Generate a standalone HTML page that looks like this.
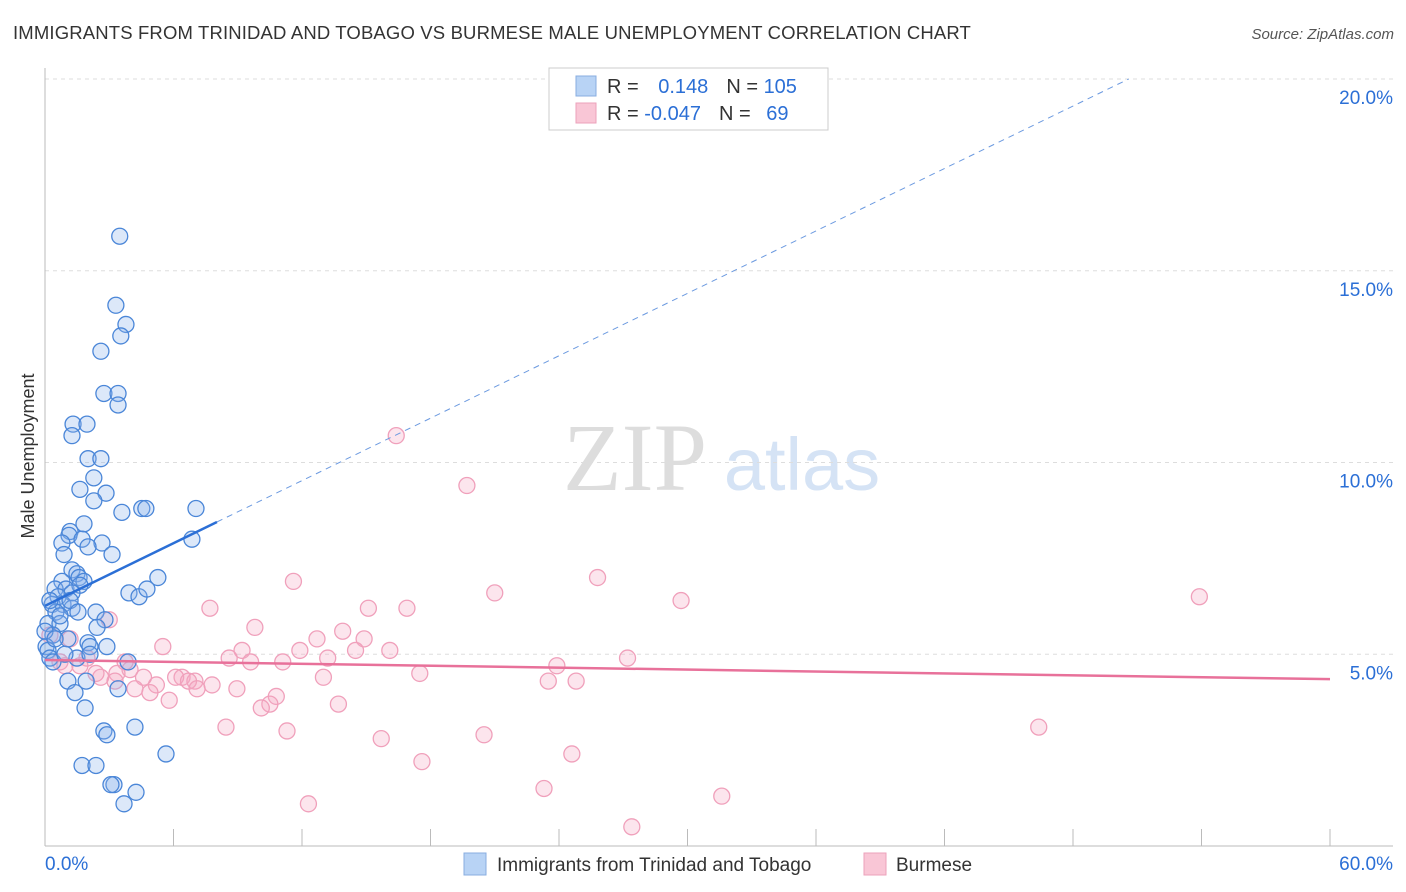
<!DOCTYPE html>
<html><head><meta charset="utf-8">
<style>
body{margin:0;background:#fff;font-family:"Liberation Sans",sans-serif;}
svg{display:block}
</style></head>
<body>
<svg id="chart" width="1406" height="892" xmlns="http://www.w3.org/2000/svg">
<text x="13" y="39" font-size="18.5" letter-spacing="0.15" fill="#333">IMMIGRANTS FROM TRINIDAD AND TOBAGO VS BURMESE MALE UNEMPLOYMENT CORRELATION CHART</text>
<text x="1394" y="39" font-size="15" fill="#555" text-anchor="end" font-style="italic">Source: ZipAtlas.com</text>
<text transform="translate(34,456) rotate(-90)" font-size="18" fill="#333" text-anchor="middle">Male Unemployment</text>
<g>
<text x="635" y="490" font-size="96" fill="#ddd" text-anchor="middle" font-family="Liberation Serif,serif">ZIP</text>
<text x="802" y="490" font-size="74" fill="#d5e3f5" text-anchor="middle">atlas</text>
</g>
<g id="grid"></g><g id="axes"></g><g id="marks"></g>
<g>
<rect x="549" y="68" width="279" height="62" fill="#fff" stroke="#ccc"/>
<rect x="576" y="76" width="20" height="20" fill="#b8d3f5" stroke="#88aee0"/>
<rect x="576" y="103" width="20" height="20" fill="#f9c6d6" stroke="#eca2bb"/>
<text x="607" y="93" font-size="20" fill="#333">R = <tspan fill="#2b6fd6" dx="14">0.148</tspan><tspan dx="18" fill="#333">N = </tspan><tspan fill="#2b6fd6">105</tspan></text>
<text x="607" y="120" font-size="20" fill="#333">R = <tspan fill="#2b6fd6">-0.047</tspan><tspan dx="18" fill="#333">N = </tspan><tspan fill="#2b6fd6" dx="10">69</tspan></text>
</g>
<g>
<rect x="464" y="853" width="22" height="22" fill="#b8d3f5" stroke="#88aee0"/>
<text x="497" y="871" font-size="19" fill="#333">Immigrants from Trinidad and Tobago</text>
<rect x="864" y="853" width="22" height="22" fill="#f9c6d6" stroke="#eca2bb"/>
<text x="896" y="871" font-size="19" fill="#333">Burmese</text>
</g>
</svg>
<script>
const xTicks=[0,6,12,18,24,30,36,42,48,54,60];
const yTicks=[5,10,15,20];
const yTickLabels=["5.0%","10.0%","15.0%","20.0%"];
const blueTrend=[[0,6.26],[8.03,8.45]];
const blueDash=[[8.03,8.45],[50.6,20.0]];
const pinkTrend=[[0,4.85],[60,4.35]];
const bluePts=[[3.49,15.9],[3.31,14.1],[3.78,13.6],[3.54,13.3],[2.61,12.9],[2.75,11.8],[3.41,11.8],[3.41,11.5],[1.31,11.0],[1.96,11.0],[1.26,10.7],[2.01,10.1],[2.61,10.1],[2.28,9.6],[1.63,9.3],[2.85,9.2],[2.28,9.0],[3.59,8.7],[4.52,8.8],[4.71,8.8],[7.05,8.8],[1.82,8.4],[1.17,8.2],[1.12,8.1],[1.73,8.0],[0.79,7.9],[2.66,7.9],[2.01,7.8],[0.89,7.6],[3.13,7.6],[1.26,7.2],[1.49,7.1],[1.59,7.0],[0.79,6.9],[1.82,6.9],[5.27,7.0],[0.47,6.7],[0.98,6.7],[1.63,6.8],[1.26,6.6],[3.92,6.6],[4.39,6.5],[4.76,6.7],[0.61,6.5],[0.33,6.3],[0.84,6.3],[1.26,6.2],[0.51,6.1],[2.38,6.1],[2.80,5.9],[0.14,5.8],[0.70,5.8],[2.43,5.7],[0.37,5.5],[1.07,5.4],[2.01,5.3],[2.10,5.2],[2.89,5.2],[0.05,5.2],[0.14,5.1],[1.49,4.9],[2.10,5.0],[0.23,4.9],[3.88,4.8],[0.37,4.8],[1.07,4.3],[1.92,4.3],[1.40,4.0],[3.41,4.1],[1.87,3.6],[2.75,3.0],[4.20,3.1],[2.89,2.9],[5.65,2.4],[1.73,2.1],[2.38,2.1],[3.22,1.6],[3.08,1.6],[4.25,1.4],[3.69,1.1],[6.86,8.0],[0.0,5.6],[0.23,6.4],[0.70,6.0],[0.47,5.4],[0.93,5.0],[1.17,6.4],[1.54,6.1]];
const pinkPts=[[16.4,10.7],[19.7,9.4],[11.6,6.9],[25.8,7.0],[21.0,6.6],[29.7,6.4],[53.9,6.5],[7.7,6.2],[15.1,6.2],[16.9,6.2],[3.0,5.9],[9.8,5.7],[13.9,5.6],[12.7,5.4],[14.9,5.4],[5.5,5.2],[9.2,5.1],[11.9,5.1],[16.1,5.1],[14.5,5.1],[8.6,4.9],[13.2,4.9],[9.6,4.8],[11.1,4.8],[23.9,4.7],[27.2,4.9],[6.4,4.4],[3.97,4.6],[3.36,4.5],[17.5,4.5],[13.0,4.4],[7.8,4.2],[6.1,4.4],[7.0,4.3],[6.7,4.3],[5.2,4.2],[4.6,4.4],[2.6,4.4],[4.2,4.1],[4.9,4.0],[5.8,3.8],[7.1,4.1],[8.96,4.1],[10.8,3.9],[13.7,3.7],[10.5,3.7],[10.1,3.6],[23.5,4.3],[24.8,4.3],[8.45,3.1],[11.3,3.0],[20.5,2.9],[15.7,2.8],[46.4,3.1],[24.6,2.4],[17.6,2.2],[23.3,1.5],[31.6,1.3],[12.3,1.1],[27.4,0.5],[1.96,4.9],[0.70,4.8],[1.17,5.4],[0.23,5.5],[1.63,4.7],[2.38,4.5],[3.27,4.3],[3.74,4.8],[0.93,4.7]];
const X0=45,X1=1330,Y0=846,PPY=38.35;
const sx=v=>X0+(v-0)/60*(X1-X0);
const sy=v=>Y0-v*PPY;
const NS="http://www.w3.org/2000/svg";
function mk(p,t,a){const e=document.createElementNS(NS,t);for(const k in a)e.setAttribute(k,a[k]);document.getElementById(p).appendChild(e);return e;}
yTicks.forEach((t,i)=>{
 const g=mk('grid','line',{x1:X0,x2:1393,y1:sy(t),y2:sy(t),stroke:'#ddd','stroke-dasharray':'4,4'});
 
 
 const l=mk('axes','text',{x:1393,y:sy(t)+25,'font-size':19,fill:'#2b6fd6','text-anchor':'end'});
 l.textContent=yTickLabels[i];
 
 
});
const ax=mk('axes','line',{x1:X0,x2:1393,y1:Y0,y2:Y0,stroke:'#bbb'});


const ay=mk('axes','line',{x1:X0,x2:X0,y1:68,y2:Y0,stroke:'#bbb'});


xTicks.forEach(t=>{const e=mk('axes','line',{x1:sx(t),x2:sx(t),y1:Y0,y2:Y0-17,stroke:'#bbb'});
 
 });
const xl0=mk('axes','text',{x:45,y:870,'font-size':19,fill:'#2b6fd6'});xl0.textContent=xTicks[0].toFixed(1)+'%';


const xl1=mk('axes','text',{x:1393,y:870,'font-size':19,fill:'#2b6fd6','text-anchor':'end'});xl1.textContent=xTicks[xTicks.length-1].toFixed(1)+'%';


pinkPts.forEach(p=>{const c=mk('marks','circle',{cx:sx(p[0]),cy:sy(p[1]),r:8,fill:'rgba(246,170,195,0.3)',stroke:'#f0a0bb','stroke-width':1.3});
 
 });
bluePts.forEach(p=>{const c=mk('marks','circle',{cx:sx(p[0]),cy:sy(p[1]),r:8,fill:'rgba(140,180,235,0.3)',stroke:'#4a86d8','stroke-width':1.3});
 
 });
const bt=mk('marks','line',{x1:sx(blueTrend[0][0]),y1:sy(blueTrend[0][1]),x2:sx(blueTrend[1][0]),y2:sy(blueTrend[1][1]),stroke:'#2b6fd6','stroke-width':2.5});


const bd=mk('marks','line',{x1:sx(blueDash[0][0]),y1:sy(blueDash[0][1]),x2:sx(blueDash[1][0]),y2:sy(blueDash[1][1]),stroke:'#6c9ae0','stroke-width':1,'stroke-dasharray':'6,5'});


const pt=mk('marks','line',{x1:sx(pinkTrend[0][0]),y1:sy(pinkTrend[0][1]),x2:sx(pinkTrend[1][0]),y2:sy(pinkTrend[1][1]),stroke:'#e8719a','stroke-width':2.5});


</script>
</body></html>
